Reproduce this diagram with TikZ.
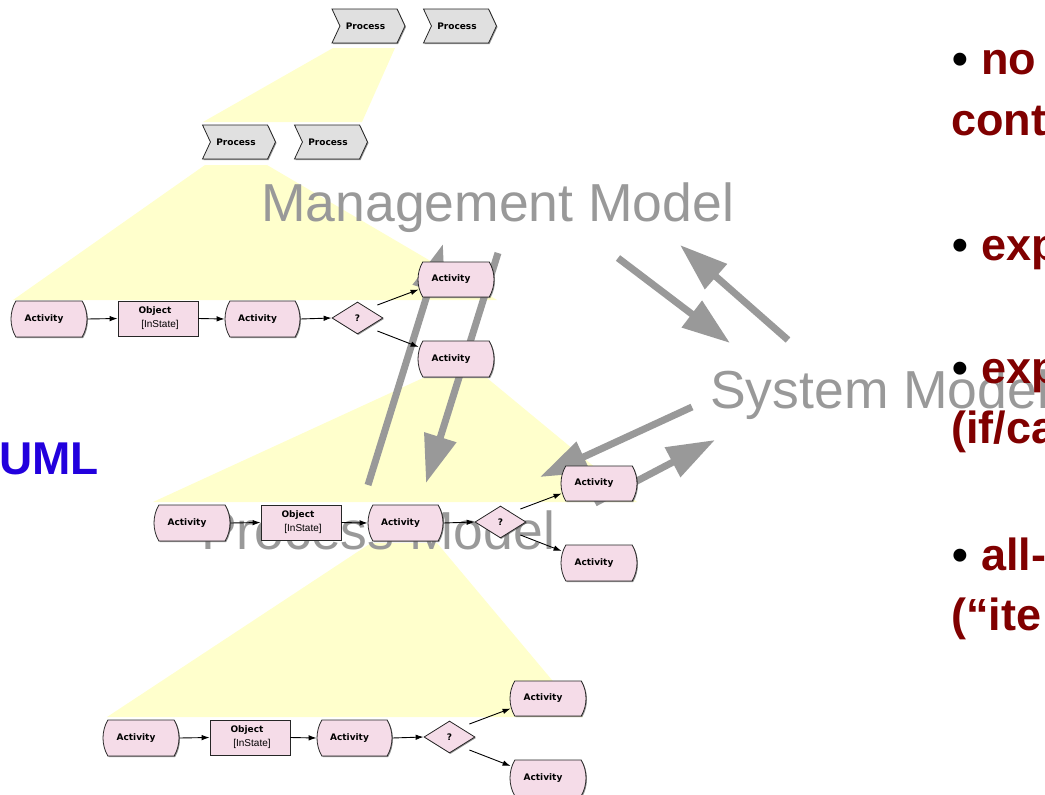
\documentclass[tikz,border=0pt]{standalone}
\usepackage{fontspec}
\setmainfont{Liberation Sans}
\newfontfamily\dvs{DejaVu Sans}
\usetikzlibrary{shapes.misc,shapes.symbols,shapes.geometric,arrows.meta,calc,shadows}
\definecolor{ylw}{HTML}{FFFFCC}
\definecolor{pinkfill}{HTML}{F5DCE8}
\definecolor{procfill}{HTML}{E0E0E0}
\definecolor{bigray}{HTML}{999999}
\definecolor{darkred}{HTML}{800000}
\definecolor{umlblue}{HTML}{2200DD}
\tikzset{
  nodetext/.style={font=\dvs\bfseries\fontsize{9}{10}\selectfont},
  nshadow/.style={drop shadow={shadow xshift=1pt, shadow yshift=-1pt, fill=black!70, opacity=0.6}},
  activity/.style={rounded rectangle, rounded rectangle arc length=60, draw=black!85, line width=0.8pt, fill=pinkfill, minimum width=76pt, minimum height=36pt, inner sep=0pt, nodetext, nshadow},
  objbox/.style={rectangle, draw=black!85, line width=0.8pt, fill=pinkfill, minimum width=80pt, minimum height=35pt, inner sep=0pt, align=center, nodetext, nshadow},
  decision/.style={diamond, draw=black!85, line width=0.8pt, fill=pinkfill, minimum width=51pt, minimum height=32pt, inner sep=0pt, nodetext, nshadow},
  process/.style={signal, signal from=west, signal to=east, signal pointer angle=130, draw=black!85, line width=0.8pt, fill=procfill, minimum width=73pt, minimum height=34pt, inner sep=0pt, nodetext, nshadow},
  conn/.style={draw=black, line width=0.9pt, -{Latex[length=8pt,width=5.5pt]}},
  bigarrow/.style={draw=bigray, line width=7pt, -{Triangle[length=48pt,width=32pt]}},
  bigtext/.style={anchor=base west, inner sep=0pt, text=bigray, font=\fontsize{53.5}{60}\selectfont},
  bul/.style={anchor=base west, inner sep=0pt, font=\bfseries\fontsize{45}{50}\selectfont},
}
\newcommand{\actlabel}{\kern-5pt Activity\kern5pt}
\newcommand{\objlabel}{\kern-3pt Object\kern3pt\\[4pt]{\fontspec{Liberation Sans}\mdseries\fontsize{10}{11}\selectfont\kern2pt[InState]\kern-2pt}}
\newcommand{\umlrow}[3]{%
  \begin{scope}[shift={(#2,#3)}]
    \node[activity] (#1a1) at (49,319) {\actlabel};
    \node[objbox] (#1ob) at (158,318.5) {\objlabel};
    \node[activity, minimum width=75pt] (#1a2) at (262.5,319) {\actlabel};
    \node[decision] (#1d) at (357.5,318) {?};
    \node[activity, minimum height=35pt] (#1a3) at (456,279.5) {\actlabel};
    \node[activity] (#1a4) at (456,359) {\actlabel};
  \end{scope}
  \draw[conn] (#1a1.east) -- (#1ob.west);
  \draw[conn] (#1ob.east) -- (#1a2.west);
  \draw[conn] (#1a2.east) -- (#1d.west);
  \draw[conn] ($(#1d.east)+(-6,-13)$) -- ($(#1a3.west)+(1,10)$);
  \draw[conn] ($(#1d.east)+(-6,13)$) -- ($(#1a4.west)+(1,-12)$);
}
\begin{document}
\begin{tikzpicture}[x=1pt,y=-1pt]
\useasboundingbox (0,0) rectangle (1045,795);
% yellow zoom trapezoids
\fill[ylw] (333,48) -- (395,48) -- (362,122) -- (203,122) -- cycle;
\fill[ylw] (205,165) -- (267,165) -- (497,300) -- (13,300) -- cycle;
\fill[ylw] (423,378) -- (487,378) -- (637,502) -- (153,502) -- cycle;
\fill[ylw] (371,543) -- (437,543) -- (583,717) -- (107,717) -- cycle;
% big gray labels
\node[bigtext] (mm) at (261,221) {Management Model};
\node[bigtext] (sm) at (710,408) {System Model};
\node[bigtext] (pm) at (201,549) {Process Model};
% gray arrows
\coordinate (g1s) at (498,253); \coordinate (g1e) at (426,483);
\coordinate (g2s) at (368,485); \coordinate (g2e) at (443,244);
\coordinate (g3s) at (618,258); \coordinate (g3e) at (730,343);
\coordinate (g4s) at (788,340); \coordinate (g4e) at (680,245);
\coordinate (g5s) at (692,407); \coordinate (g5e) at (540,477);
\coordinate (g6s) at (595,503); \coordinate (g6e) at (715,440);
\draw[bigarrow] (g1s) -- (g1e);
\draw[bigarrow] (g2s) -- (g2e);
\draw[bigarrow] (g3s) -- (g3e);
\draw[bigarrow] (g4s) -- (g4e);
\draw[bigarrow] (g5s) -- (g5e);
\draw[bigarrow] (g6s) -- (g6e);
% process chevrons
\node[process] (p1) at (368.5,26) {\kern-3pt Process\kern3pt};
\node[process] (p2) at (460,26) {\kern-3pt Process\kern3pt};
\node[process] (p3) at (239,142) {\kern-3pt Process\kern3pt};
\node[process] (p4) at (331,142) {\kern-3pt Process\kern3pt};
% activity rows
\umlrow{r1}{0}{0}
\umlrow{r2}{143}{204}
\umlrow{r3}{92}{419}
% UML label
\node[anchor=base west, inner sep=0pt, text=umlblue, font=\bfseries\fontsize{46}{50}\selectfont] (uml) at (-1,474) {UML};
% bullets
\node[bul, text=black] (b1) at (952,74) {\textbullet};
\node[bul, text=darkred] (t1) at (981,74) {no};
\node[bul, text=darkred] (t1b) at (951,135) {cont};
\node[bul, text=black] (b2) at (952,260) {\textbullet};
\node[bul, text=darkred] (t2) at (981,260) {exp};
\node[bul, text=black] (b3) at (952,383) {\textbullet};
\node[bul, text=darkred] (t3) at (981,383) {exp};
\node[bul, text=darkred] (t3b) at (951,443) {(if/ca};
\node[bul, text=black] (b4) at (952,570) {\textbullet};
\node[bul, text=darkred] (t4) at (981,570) {all-};
\node[bul, text=darkred] (t4b) at (951,630) {(“ite};
\end{tikzpicture}
\end{document}
